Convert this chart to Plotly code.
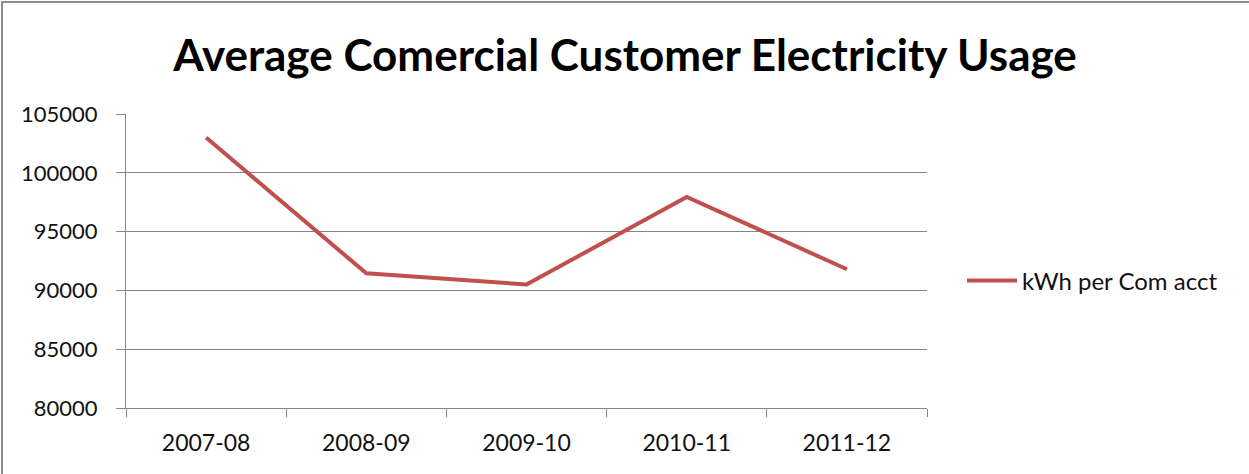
import plotly.graph_objects as go

# Fiscal years and average usage (kWh per commercial account)
years = ["2007-08", "2008-09", "2009-10", "2010-11", "2011-12"]
kwh_per_account = [103000, 91450, 90500, 97950, 91800]
y_ticks = [80000, 85000, 90000, 95000, 100000, 105000]
y_tick_text = ["80000", "85000", "90000", "95000", "100000", "105000"]

W, H = 1249, 474
L, R, T, B = 126, 322, 114, 66
pw, ph = W - L - R, H - T - B

font = "Lato, 'Open Sans', sans-serif"

fig = go.Figure()
fig.add_trace(go.Scatter(
    x=years, y=kwh_per_account, mode="lines", name="kWh per Com acct",
    line=dict(color="#C0504D", width=4),
))

fig.update_layout(
    width=W, height=H,
    margin=dict(l=L, r=R, t=T, b=B),
    paper_bgcolor="white", plot_bgcolor="white",
    showlegend=True,
    title=dict(
        text="<b>Average Comercial Customer Electricity Usage</b>",
        x=625 / W, xanchor="center", y=1 - 56 / H, yanchor="middle",
        font=dict(family=font, size=44, color="#000000"),
    ),
    legend=dict(
        x=(962 - L) / pw, xanchor="left", y=(H - B - 281) / ph,
        yanchor="middle", bgcolor="rgba(0,0,0,0)",
        font=dict(family=font, size=24, color="#111111"),
        itemwidth=50,
    ),
    xaxis=dict(
        type="category", tickson="boundaries", ticks="outside", ticklen=8,
        tickcolor="#868686", showline=True, linecolor="#868686", linewidth=1,
        showgrid=False, tickfont=dict(family=font, size=23, color="#111111"),
        range=[-0.5, len(years) - 0.5], ticklabelstandoff=14,
    ),
    yaxis=dict(
        range=[80000, 105000], tickvals=y_ticks, ticktext=y_tick_text,
        ticks="outside", ticklen=9,
        tickcolor="#868686", showline=True, linecolor="#868686", linewidth=1,
        showgrid=True, gridcolor="#868686", gridwidth=1, zeroline=False,
        tickfont=dict(family=font, size=22, color="#111111"),
        ticklabelstandoff=14,
    ),
    shapes=[dict(
        type="rect", xref="paper", yref="paper",
        x0=(2 - L) / pw, x1=(W + 10 - L) / pw,
        y0=(H - B - (H + 10)) / ph, y1=(H - B - 2) / ph,
        line=dict(color="#8C8C8C", width=2), fillcolor="rgba(0,0,0,0)", layer="below",
    )],
)

fig.write_html("out.html")
